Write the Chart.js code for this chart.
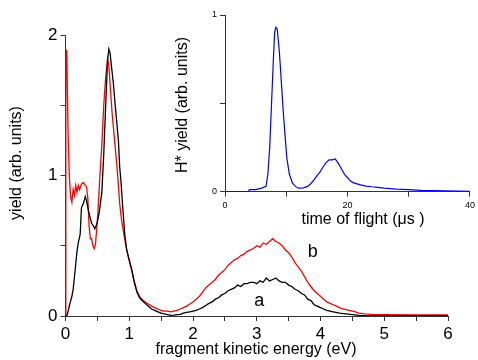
<!DOCTYPE html>
<html>
<head>
<meta charset="utf-8">
<script src="https://cdn.jsdelivr.net/npm/chart.js@4.4.0/dist/chart.umd.min.js"></script>
<style>
  html, body { margin: 0; padding: 0; background: #fff; }
  #wrap { position: relative; width: 478px; height: 360px; }
  #mainChart { position: absolute; left: 0; top: 0; }
  #insetChart { position: absolute; left: 160px; top: 0; }
</style>
</head>
<body>
<div id="wrap">
  <canvas id="mainChart" width="478" height="360"></canvas>
  <canvas id="insetChart" width="318" height="235"></canvas>
</div>
<script>
// main panel: fragment kinetic energy spectra (curve a = black, curve b = red)
const energyA = [0, 0.02, 0.05, 0.07, 0.1, 0.12, 0.15, 0.18, 0.2, 0.23, 0.25, 0.28, 0.31, 0.33, 0.36, 0.38, 0.41, 0.44, 0.46, 0.48,
  0.5, 0.53, 0.57, 0.6, 0.63, 0.66, 0.68, 0.7, 0.72, 0.75, 0.78, 0.81, 0.83, 0.85, 0.87, 0.9, 0.93, 0.96, 1.0, 1.04,
  1.08, 1.12, 1.16, 1.2, 1.25, 1.3, 1.35, 1.4, 1.45, 1.5, 1.55, 1.6, 1.65, 1.7, 1.75, 1.8, 1.85, 1.9, 1.95, 2.0,
  2.05, 2.1, 2.15, 2.2, 2.25, 2.3, 2.35, 2.4, 2.45, 2.5, 2.55, 2.6, 2.65, 2.7, 2.75, 2.8, 2.85, 2.9, 2.95, 3.0,
  3.05, 3.1, 3.15, 3.2, 3.25, 3.3, 3.35, 3.4, 3.45, 3.5, 3.55, 3.6, 3.65, 3.7, 3.75, 3.8, 3.85, 3.9, 3.95, 4.0,
  4.05, 4.1, 4.2, 4.3, 4.4, 4.5, 4.6, 4.8, 5.0, 5.5, 6.0];
const yieldA = [0, 0.0, 0.05, 0.09, 0.14, 0.19, 0.32, 0.46, 0.52, 0.58, 0.77, 0.80, 0.85, 0.82, 0.75, 0.71, 0.66, 0.64, 0.62, 0.64,
  0.67, 0.74, 0.88, 1.15, 1.5, 1.82, 1.9, 1.87, 1.78, 1.66, 1.5, 1.35, 1.25, 1.06, 0.96, 0.76, 0.58, 0.47, 0.40, 0.33,
  0.24, 0.17, 0.13, 0.11, 0.09, 0.07, 0.05, 0.04, 0.03, 0.02, 0.015, 0.01, 0.005, 0.006, 0.01, 0.012, 0.02, 0.025, 0.03, 0.035,
  0.04, 0.05, 0.06, 0.075, 0.09, 0.10, 0.12, 0.13, 0.15, 0.16, 0.18, 0.19, 0.20, 0.22, 0.21, 0.23, 0.23, 0.24, 0.24, 0.23,
  0.25, 0.24, 0.27, 0.25, 0.26, 0.27, 0.25, 0.24, 0.24, 0.22, 0.21, 0.19, 0.18, 0.16, 0.15, 0.12, 0.11, 0.08, 0.07, 0.06,
  0.05, 0.04, 0.03, 0.02, 0.015, 0.01, 0.005, 0.003, 0.002, 0.002, 0.002];

const energyB = [0, 0.005, 0.02, 0.04, 0.06, 0.08, 0.1, 0.12, 0.14, 0.16, 0.18, 0.2, 0.22, 0.25, 0.28, 0.31, 0.33, 0.35, 0.37, 0.39,
  0.41, 0.43, 0.45, 0.47, 0.49, 0.51, 0.54, 0.57, 0.6, 0.63, 0.66, 0.68, 0.7, 0.73, 0.76, 0.79, 0.82, 0.85, 0.88, 0.92,
  0.96, 1.0, 1.04, 1.08, 1.12, 1.16, 1.2, 1.25, 1.3, 1.35, 1.4, 1.45, 1.5, 1.55, 1.6, 1.65, 1.7, 1.75, 1.8, 1.85,
  1.9, 1.95, 2.0, 2.05, 2.1, 2.15, 2.2, 2.25, 2.3, 2.35, 2.4, 2.45, 2.5, 2.55, 2.6, 2.65, 2.7, 2.75, 2.8, 2.85,
  2.9, 2.95, 3.0, 3.05, 3.1, 3.15, 3.2, 3.25, 3.3, 3.35, 3.4, 3.45, 3.5, 3.55, 3.6, 3.65, 3.7, 3.75, 3.8, 3.85,
  3.9, 3.95, 4.0, 4.05, 4.1, 4.15, 4.2, 4.25, 4.3, 4.35, 4.4, 4.45, 4.5, 4.55, 4.6, 4.7, 4.8, 5.0, 5.5, 6.0];
const yieldB = [0, 1.89, 1.89, 1.3, 1.0, 0.85, 0.81, 0.9, 0.86, 0.93, 0.88, 0.93, 0.90, 0.94, 0.95, 0.93, 0.92, 0.84, 0.64, 0.55,
  0.55, 0.50, 0.48, 0.51, 0.62, 0.75, 1.0, 1.22, 1.5, 1.7, 1.83, 1.78, 1.65, 1.45, 1.3, 1.15, 0.99, 0.8, 0.68, 0.57,
  0.47, 0.39, 0.32, 0.24, 0.18, 0.14, 0.12, 0.10, 0.085, 0.07, 0.06, 0.05, 0.04, 0.035, 0.035, 0.03, 0.035, 0.04, 0.05, 0.06,
  0.07, 0.085, 0.10, 0.12, 0.14, 0.17, 0.20, 0.22, 0.24, 0.26, 0.29, 0.31, 0.33, 0.36, 0.38, 0.40, 0.41, 0.43, 0.44, 0.46,
  0.47, 0.48, 0.50, 0.49, 0.52, 0.51, 0.53, 0.55, 0.53, 0.52, 0.50, 0.47, 0.45, 0.42, 0.38, 0.35, 0.32, 0.28, 0.24, 0.21,
  0.18, 0.16, 0.14, 0.12, 0.10, 0.09, 0.08, 0.07, 0.06, 0.05, 0.045, 0.04, 0.035, 0.03, 0.02, 0.015, 0.012, 0.01, 0.008, 0.008];

// inset: H* time-of-flight spectrum
const tof = [0, 3.8, 4.0, 5, 6, 6.7, 7.0, 7.3, 7.6, 7.9, 8.1, 8.3, 8.5, 8.7, 8.9, 9.2, 9.5, 9.8, 10.1, 10.5,
  11, 11.5, 12, 12.8, 13.5, 14, 14.5, 15, 15.5, 16, 16.5, 17, 17.5, 18, 18.5, 19, 19.5, 20, 20.5, 21,
  22, 23, 24, 25, 26, 28, 30, 32, 34, 36, 38, 40];
const tofYield = [0, 0, 0.012, 0.012, 0.02, 0.03, 0.1, 0.25, 0.5, 0.75, 0.9, 0.93, 0.925, 0.86, 0.78, 0.62, 0.46, 0.32, 0.19, 0.1,
  0.05, 0.03, 0.02, 0.022, 0.03, 0.045, 0.065, 0.09, 0.11, 0.14, 0.165, 0.18, 0.18, 0.185, 0.16, 0.13, 0.1, 0.08, 0.06, 0.05,
  0.04, 0.032, 0.028, 0.025, 0.02, 0.015, 0.012, 0.008, 0.006, 0.005, 0.003, 0.002];

const mainXLabels = [0, 1, 2, 3, 4, 5, 6];
const mainYLabels = [0, 1, 2];
const insetXLabels = [0, 20, 40];
const insetYLabels = [0, 1];

const FONT = 'Arial, "Liberation Sans", sans-serif';
const AXIS = '#333333';

function toPoints(xs, ys) {
    return xs.map(function(x, i) { return { x: x, y: ys[i] }; });
}

// axis titles and curve labels drawn on top of the chart
const mainText = {
    id: 'mainText',
    afterDraw: function(chart) {
        const ctx = chart.ctx;
        const xs = chart.scales.x, ys = chart.scales.y;
        ctx.save();
        ctx.fillStyle = '#000';
        ctx.textAlign = 'center';
        ctx.textBaseline = 'middle';
        ctx.font = '16px ' + FONT;
        ctx.fillText('fragment kinetic energy (eV)', 256, 350);
        ctx.font = '18px ' + FONT;
        ctx.fillText('a', xs.getPixelForValue(3.04), ys.getPixelForValue(0.107));
        ctx.fillText('b', xs.getPixelForValue(3.88), ys.getPixelForValue(0.456));
        ctx.translate(17, 163);
        ctx.rotate(-Math.PI / 2);
        ctx.font = '16px ' + FONT;
        ctx.fillText('yield (arb. units)', 0, 0);
        ctx.restore();
    }
};

const insetText = {
    id: 'insetText',
    afterDraw: function(chart) {
        const ctx = chart.ctx;
        ctx.save();
        ctx.fillStyle = '#000';
        ctx.textAlign = 'center';
        ctx.textBaseline = 'middle';
        ctx.font = '16px ' + FONT;
        ctx.fillText('time of flight (\u03bcs )', 203, 220);
        ctx.translate(23, 105);
        ctx.rotate(-Math.PI / 2);
        ctx.fillText('H* yield (arb. units)', 0, 0);
        ctx.restore();
    }
};

function axisOptions(min, max, step, labels, fontSize, fit) {
    return {
        type: 'linear',
        min: min,
        max: max,
        afterBuildTicks: function(scale) {
            const t = [];
            for (let v = min; v <= max + 1e-9; v += step) t.push({ value: +v.toFixed(3) });
            scale.ticks = t;
        },
        afterFit: fit,
        grid: { drawOnChartArea: false, drawTicks: true, tickLength: 5, color: AXIS },
        border: { display: true, color: AXIS, width: 1 },
        ticks: {
            autoSkip: false,
            maxRotation: 0,
            padding: 3,
            color: '#000',
            font: { family: FONT, size: fontSize },
            callback: function(v) { return labels.indexOf(v) >= 0 ? String(v) : ''; }
        }
    };
}

function initializeMainChart() {
    const ctx = document.getElementById('mainChart').getContext('2d');
    new Chart(ctx, {
        type: 'line',
        data: {
            datasets: [{
                label: 'a',
                data: toPoints(energyA, yieldA),
                borderColor: '#000000',
                borderWidth: 1.3,
                pointRadius: 0,
                tension: 0
            }, {
                label: 'b',
                data: toPoints(energyB, yieldB),
                borderColor: '#ff0000',
                borderWidth: 1.3,
                pointRadius: 0,
                tension: 0
            }]
        },
        options: {
            responsive: false,
            devicePixelRatio: 1,
            animation: false,
            layout: { padding: { top: 35, right: 30, left: 0, bottom: 0 } },
            plugins: { legend: { display: false }, tooltip: { enabled: false } },
            scales: {
                x: axisOptions(0, 6, 0.5, mainXLabels, 17, function(s) { s.height = 44; }),
                y: axisOptions(0, 2, 0.5, mainYLabels, 17, function(s) { s.width = 65.5; })
            }
        },
        plugins: [mainText]
    });
}

function initializeInsetChart() {
    const ctx = document.getElementById('insetChart').getContext('2d');
    new Chart(ctx, {
        type: 'line',
        data: {
            datasets: [{
                data: toPoints(tof, tofYield),
                borderColor: '#0000ff',
                borderWidth: 1.2,
                pointRadius: 0,
                tension: 0
            }]
        },
        options: {
            responsive: false,
            devicePixelRatio: 1,
            animation: false,
            layout: { padding: { top: 15, right: 5, left: 0, bottom: 0 } },
            plugins: { legend: { display: false }, tooltip: { enabled: false } },
            scales: {
                x: axisOptions(0, 40, 10, insetXLabels, 9, function(s) { s.height = 43.3; }),
                y: axisOptions(0, 1, 0.5, insetYLabels, 9, function(s) { s.width = 65; })
            }
        },
        plugins: [insetText]
    });
}

document.addEventListener('DOMContentLoaded', function() {
    initializeMainChart();
    initializeInsetChart();
});
</script>
</body>
</html>
